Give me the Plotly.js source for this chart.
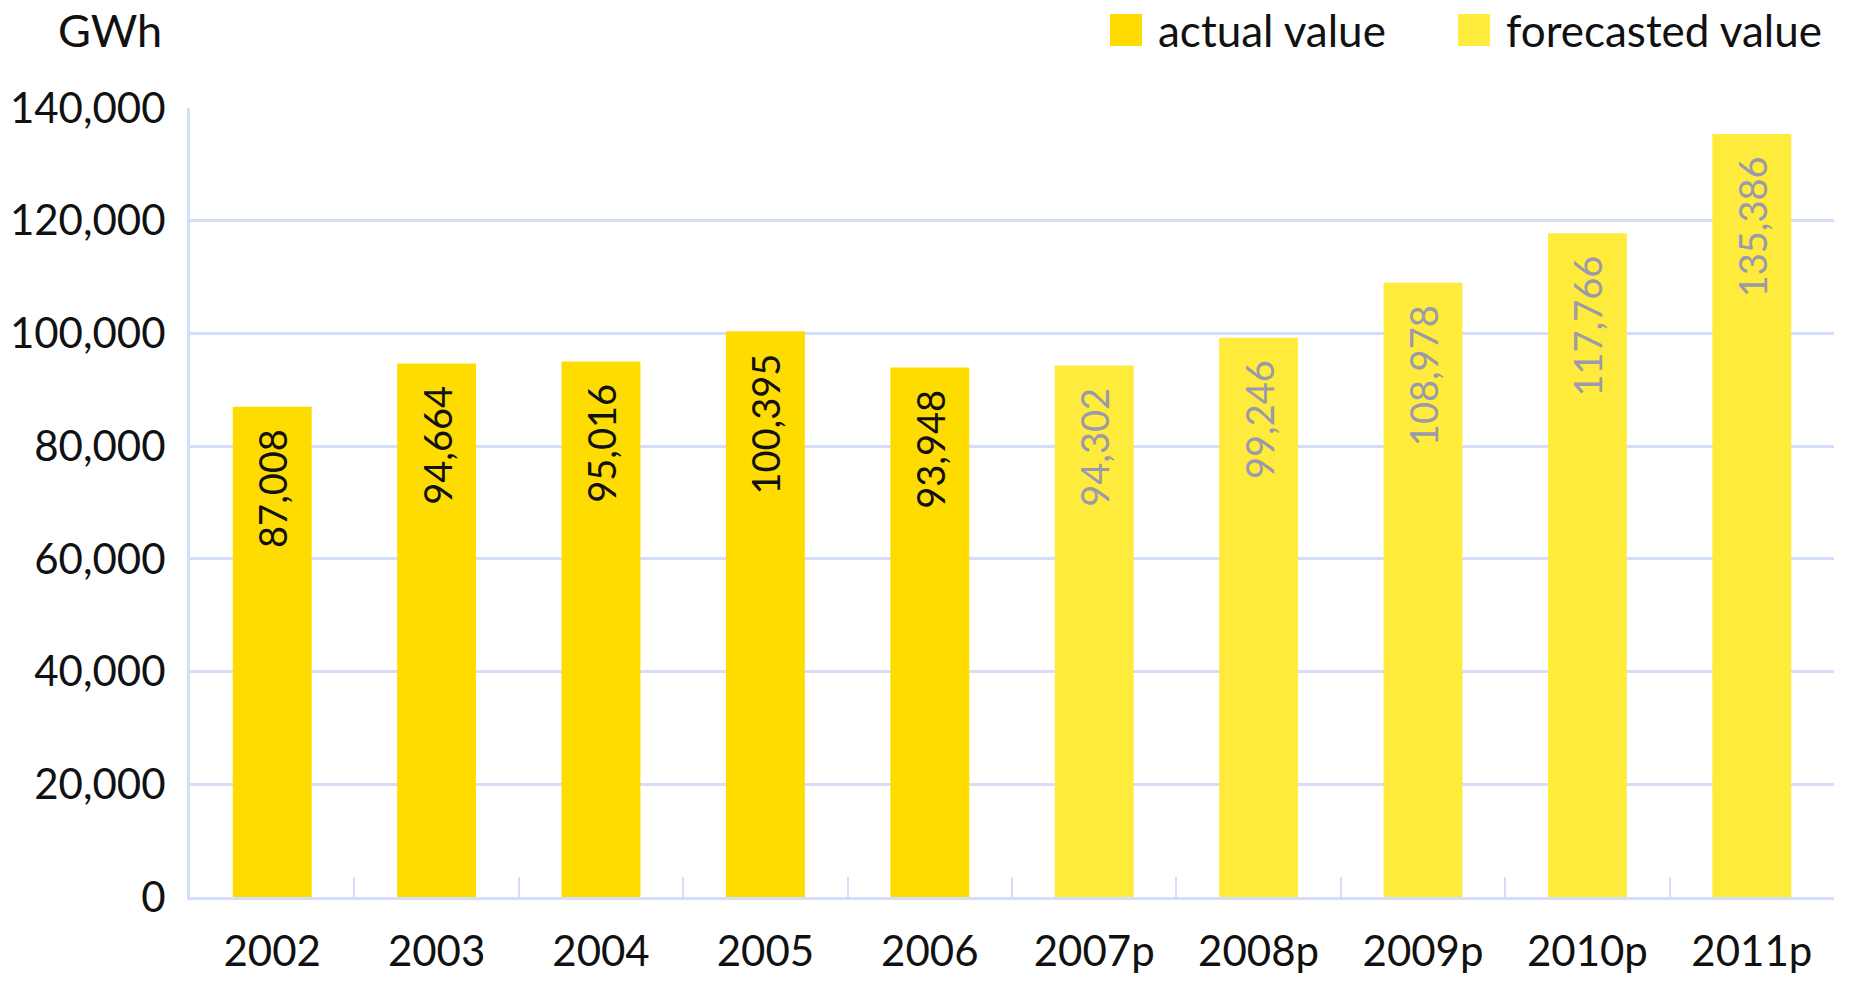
<!DOCTYPE html>
<html>
<head>
<meta charset="utf-8">
<script src="https://cdn.plot.ly/plotly-3.0.1.min.js"></script>
<style>
  html, body { margin: 0; padding: 0; background: #fff; }
  #chart { width: 1859px; height: 981px; }
</style>
</head>
<body>
<div id="chart"></div>
<script>
// data
var actualYears = ['2002', '2003', '2004', '2005', '2006'];
var actualValues = [87008, 94664, 95016, 100395, 93948];
var forecastYears = ['2007p', '2008p', '2009p', '2010p', '2011p'];
var forecastValues = [94302, 99246, 108978, 117766, 135386];
var yTicks = [0, 20000, 40000, 60000, 80000, 100000, 120000, 140000];

var FONT = 'Lato, "Open Sans", sans-serif';
var GRID = '#d5ddfa';

// plot box in pixels, used to place the hand made legend
var L = 190, R = 1834, T = 108, B = 897;
function px(x) { return (x - L) / (R - L); }
function py(y) { return (B - y) / (B - T); }

var trace1 = {
	x: actualYears,
	y: actualValues,
	name: 'actual value',
	type: 'bar',
	marker: { color: '#ffdc00' },
	texttemplate: '%{y:,}\u00a0\u00a0',
	textposition: 'inside',
	insidetextanchor: 'end',
	textangle: -90,
	textfont: { family: FONT, size: 38, color: '#111111' },
	hoverinfo: 'x+y'
};
var trace2 = {
	x: forecastYears,
	y: forecastValues,
	name: 'forecasted value',
	type: 'bar',
	marker: { color: '#ffeb3c' },
	texttemplate: '%{y:,}\u00a0\u00a0',
	textposition: 'inside',
	insidetextanchor: 'end',
	textangle: -90,
	textfont: { family: FONT, size: 38, color: '#9a9aaa' },
	hoverinfo: 'x+y'
};

var layout = {
	width: 1859,
	height: 981,
	margin: { l: L, r: 1859 - R, t: T, b: 981 - B },
	paper_bgcolor: '#ffffff',
	plot_bgcolor: '#ffffff',
	font: { family: FONT, size: 42, color: '#111111' },
	showlegend: false,
	barmode: 'overlay',
	bargap: 0.52,
	xaxis: {
		type: 'category',
		categoryorder: 'array',
		categoryarray: actualYears.concat(forecastYears),
		showgrid: false,
		zeroline: false,
		showline: true,
		linecolor: GRID,
		linewidth: 3,
		ticks: 'inside',
		tickson: 'boundaries',
		ticklen: 20,
		tickwidth: 2,
		tickcolor: GRID,
		ticklabelstandoff: 16,
		tickfont: { family: FONT, size: 42, color: '#111111' }
	},
	yaxis: {
		range: [0, 140000],
		tickvals: yTicks,
		tickformat: ',',
		showgrid: true,
		gridcolor: GRID,
		gridwidth: 3,
		zeroline: false,
		showline: true,
		linecolor: GRID,
		linewidth: 3,
		ticks: '',
		ticklabelstandoff: 13,
		tickfont: { family: FONT, size: 42, color: '#111111' }
	},
	shapes: [
		{ type: 'rect', xref: 'paper', yref: 'paper', x0: px(1110), x1: px(1142), y0: py(46), y1: py(14),
		  fillcolor: '#ffdc00', line: { width: 0 } },
		{ type: 'rect', xref: 'paper', yref: 'paper', x0: px(1458), x1: px(1490), y0: py(46), y1: py(14),
		  fillcolor: '#ffeb3c', line: { width: 0 } }
	],
	annotations: [
		{ text: 'GWh', xref: 'paper', yref: 'paper', x: px(164), y: py(30), xanchor: 'right', yanchor: 'middle',
		  showarrow: false, font: { family: FONT, size: 45, color: '#111111' } },
		{ text: 'actual value', xref: 'paper', yref: 'paper', x: px(1156), y: py(30), xanchor: 'left', yanchor: 'middle',
		  showarrow: false, font: { family: FONT, size: 44, color: '#111111' } },
		{ text: 'forecasted value', xref: 'paper', yref: 'paper', x: px(1504), y: py(30), xanchor: 'left', yanchor: 'middle',
		  showarrow: false, font: { family: FONT, size: 44, color: '#111111' } }
	]
};

Plotly.newPlot('chart', [trace1, trace2], layout, { displayModeBar: false, staticPlot: true });
</script>
</body>
</html>
